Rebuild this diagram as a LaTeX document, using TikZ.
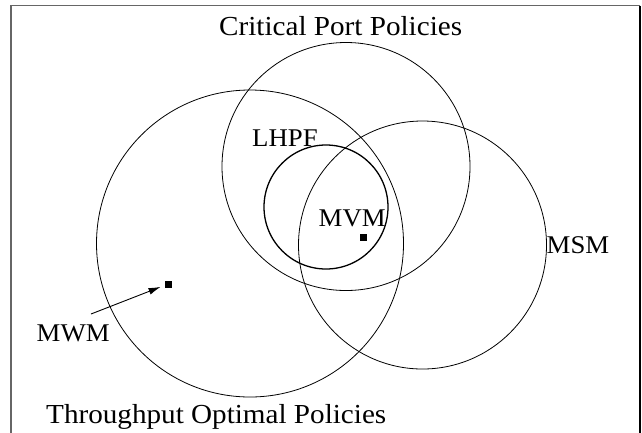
\documentclass[tikz,border=0pt]{standalone}
\usepackage{fontspec}
\setmainfont{Liberation Serif}
\usetikzlibrary{arrows.meta}
\begin{document}
\begin{tikzpicture}[x=1pt,y=-1pt,
  ring/.style={draw=black,circle,line width=0.8pt,inner sep=0pt},
  title/.style={anchor=base west,inner sep=0pt,xscale=1.06,font=\fontsize{27.5}{33}\selectfont},
  lbl/.style={anchor=base west,inner sep=0pt,xscale=1.05,font=\fontsize{25.5}{30}\selectfont},
  dot/.style={fill=black,draw=none,minimum size=7pt,inner sep=0pt,rectangle}]
\useasboundingbox (0,0) rectangle (642,432);
\fill[white] (0,0) rectangle (642,432);
% frame
\draw[gray!80!black,line width=1.2pt] (11,433) -- (11,5.5) -- (640,5.5);
\draw[black,line width=1.6pt] (640,5.5) -- (640,433);
% sets
\node[ring,minimum size=307pt] (tp) at (250,243.5) {};
\node[ring,minimum size=248pt] (cp) at (346,166.5) {};
\node[ring,minimum size=248pt] (ms) at (422.5,245) {};
\node[ring,line width=1.3pt,minimum size=124pt] (lh) at (326,207) {};
% labels
\node[title] (tcp) at (219,35.5) {Critical Port Policies};
\node[title] (ttp) at (46,423) {Throughput Optimal Policies};
\node[lbl] (tlh) at (252,146.5) {LHPF};
\node[lbl] (tmv) at (318.5,226.5) {MVM};
\node[lbl] (tms) at (546.5,253) {MSM};
\node[lbl] (tmw) at (36.5,341) {MWM};
% dots
\node[dot] (mvmdot) at (363.3,237.3) {};
\node[dot] (mwmdot) at (168,284) {};
\coordinate (mwmtail) at (91,314);
\draw[line width=0.9pt,-{Latex[length=12pt,width=7pt]},shorten >=4pt] (mwmtail) -- (mwmdot);
\end{tikzpicture}
\end{document}
